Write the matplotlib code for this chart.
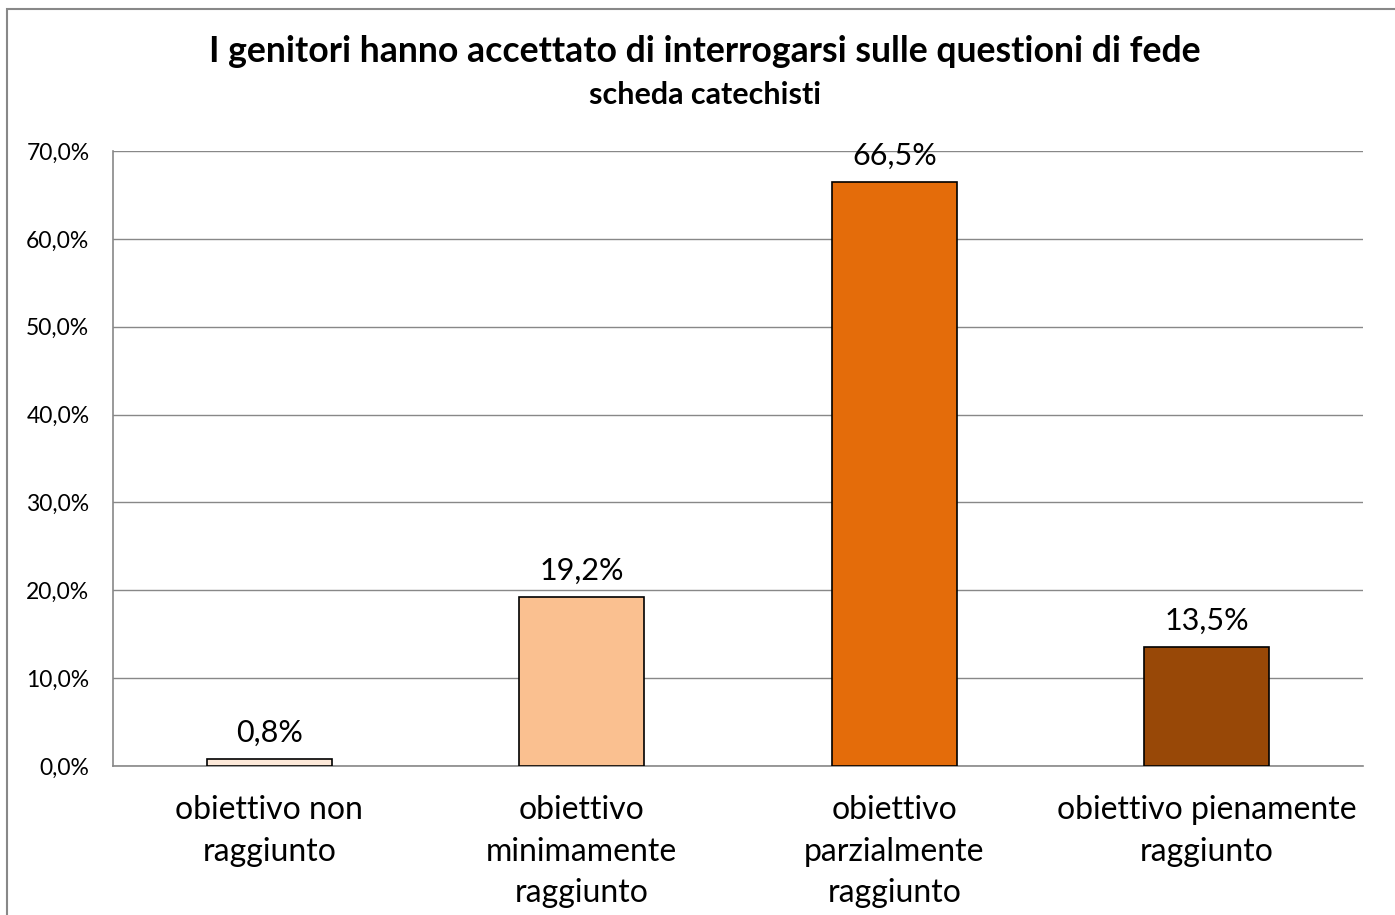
import matplotlib.pyplot as plt
from matplotlib.patches import Rectangle
from matplotlib.ticker import FuncFormatter

plt.rcParams['font.family'] = ['Lato', 'DejaVu Sans']

categories = ["obiettivo non\nraggiunto", "obiettivo\nminimamente\nraggiunto",
              "obiettivo\nparzialmente\nraggiunto", "obiettivo pienamente\nraggiunto"]
values = [0.8, 19.2, 66.5, 13.5]
colors = ["#FDE9D9", "#FAC090", "#E46C0A", "#984807"]
yticks = [0, 10, 20, 30, 40, 50, 60, 70]

fig = plt.figure(figsize=(13.95, 9.15), dpi=100)
fig.patches.append(Rectangle((7/1395, -0.1), 1.2, (915-9)/915 + 0.1, transform=fig.transFigure,
                             fill=False, edgecolor='#888888', linewidth=1.5))
ax = fig.add_axes([113/1395, 149/915, 1250/1395, 615/915])

x = range(len(values))
bars = ax.bar(x, values, width=0.4, color=colors, edgecolor='black', linewidth=1.2, zorder=3)
for xi, v in zip(x, values):
    ax.text(xi, v + 1.4, f"{v:.1f}%".replace('.', ','), ha='center', va='bottom', fontsize=22)

ax.set_xlim(-0.5, len(values) - 0.5)
ax.set_ylim(0, 70)
ax.set_yticks(yticks)
ax.yaxis.set_major_formatter(FuncFormatter(lambda v, p: f"{v:.1f}%".replace('.', ',')))
ax.grid(axis='y', color='#888888', linewidth=1, zorder=0)
ax.set_xticks(list(x))
ax.set_xticklabels(categories, fontsize=23, linespacing=1.48)
ax.tick_params(axis='x', length=0, pad=21)
ax.tick_params(axis='y', length=0, pad=17, labelsize=16.5)
for s in ['top', 'right']:
    ax.spines[s].set_visible(False)
for s in ['left', 'bottom']:
    ax.spines[s].set_color('#888888')
    ax.spines[s].set_linewidth(1.2)

fig.text(705/1395, 1 - 52/915, "I genitori hanno accettato di interrogarsi sulle questioni di fede",
         ha='center', va='center', fontsize=25.7, fontweight='bold')
fig.text(705/1395, 1 - 95/915, "scheda catechisti", ha='center', va='center',
         fontsize=22, fontweight='bold')

fig.savefig('out.png', dpi=100)
